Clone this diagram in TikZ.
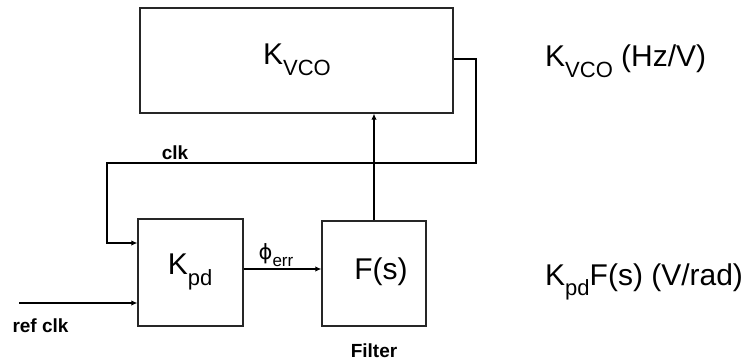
\documentclass[tikz,border=0pt]{standalone}
\usepackage{fontspec}
\setmainfont{Liberation Sans}
\newfontfamily\djv{DejaVu Sans}
\usetikzlibrary{arrows.meta}
\newcommand\lowsub[2]{\raisebox{-0.35em}{\fontsize{#1}{#1}\selectfont #2}}
\tikzset{
  blk/.style={draw=black!85, line width=1.3pt, rectangle, inner sep=0pt},
  conn/.style={draw=black, line width=2pt, -{Latex[length=6pt,width=5.5pt]}},
  big/.style={font=\fontsize{30}{32}\selectfont, inner sep=0pt},
  small/.style={font=\fontsize{19}{21}\selectfont\bfseries, inner sep=0pt},
}
\begin{document}
\begin{tikzpicture}[x=1pt,y=-1pt]
\useasboundingbox (0,0) rectangle (744,362);
% boxes
\node[blk, minimum width=313pt, minimum height=105pt] (vco) at (296.5,60.5) {};
\node[blk, minimum width=105pt, minimum height=107pt] (pd) at (190.5,272.5) {};
\node[blk, minimum width=104pt, minimum height=105pt] (flt) at (374,273.5) {};
% box texts
\node[big] (vcot) at (297,60) {K\lowsub{22}{VCO}};
\node[big] (pdt) at (190,272) {K\lowsub{22}{pd}};
\node[big] (ft) at (381,272) {F(s)};
% coordinates
\coordinate (r1) at (476,59);
\coordinate (r2) at (476,163);
\coordinate (l1) at (107,163);
\coordinate (l2) at (107,243);
\coordinate (rin) at (19,303);
% connectors
\draw[conn] (vco.east |- r1) -- (r1) -- (r2) -- (l1) -- (l2) -- (pd.west |- l2);
\draw[conn] (flt.north) -- (vco.south -| flt.north);
\draw[conn] (pd.east |- 0,269) -- (flt.west |- 0,269);
\draw[conn] (rin) -- (pd.west |- rin);
% labels
\node[small] (clk) at (175,153) {clk};
\node[small] (ref) at (40.5,325.5) {ref clk};
\node[small] (fil) at (374,351) {Filter};
\node[inner sep=0pt, font=\fontsize{21}{23}\selectfont] (phi) at (276,255) {{\djv ϕ}\lowsub{17}{err}};
\node[big, anchor=west] (r1t) at (545,61) {K\lowsub{22}{VCO} (Hz/V)};
\node[big, anchor=west] (r2t) at (545,282) {K\lowsub{22}{pd}F(s) (V/rad)};
\end{tikzpicture}
\end{document}
